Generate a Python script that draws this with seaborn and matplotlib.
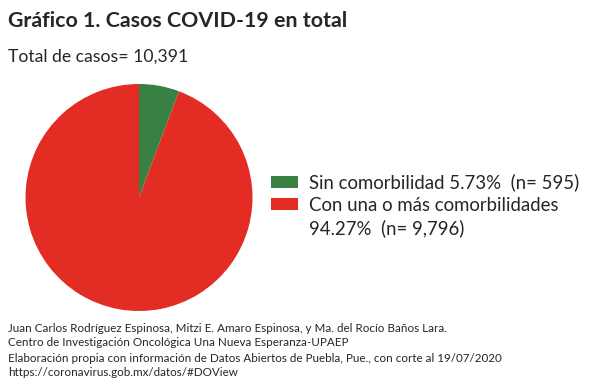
import matplotlib
matplotlib.use("Agg")
import matplotlib.pyplot as plt
from matplotlib.patches import Patch
import seaborn as sns

# data
categorias = ["Sin comorbilidad", "Con una o más comorbilidades"]
casos = [595, 9796]
colores = ["#398043", "#e32d24"]

total = sum(casos)
porcentajes = [100 * c / total for c in casos]

sns.set_theme(style="white")
plt.rcParams["font.family"] = ["Lato", "DejaVu Sans"]

W, H = 589, 390
fig = plt.figure(figsize=(W / 100, H / 100), dpi=100)

# pie axes: centre ~(139, 197), radius ~113 px
cx, cy, r = 139, 197.5, 113.5
ax = fig.add_axes([(cx - r) / W, 1 - (cy + r) / H, 2 * r / W, 2 * r / H])
wedges, _ = ax.pie(casos, colors=colores, startangle=90, counterclock=False,
                   radius=1, wedgeprops={"linewidth": 0})
ax.set_xlim(-1, 1)
ax.set_ylim(-1, 1)
ax.set_aspect("equal")
ax.axis("off")

fig.text(8 / W, 1 - 21 / H, "Gráfico 1. Casos COVID-19 en total",
         fontsize=15.4, fontweight="bold", va="center", ha="left")
fig.text(8 / W, 1 - 57 / H, "Total de casos= 10,391",
         fontsize=12.7, va="center", ha="left")

# second entry wraps onto a row with an empty handle
handles = [wedges[0], wedges[1], Patch(facecolor="none", edgecolor="none")]
etiquetas = [
    f"{categorias[0]} {porcentajes[0]:.2f}%  (n= {casos[0]:,})",
    categorias[1],
    f"{porcentajes[1]:.2f}%  (n= {casos[1]:,})",
]
fig.legend(handles, etiquetas, loc="upper left",
           bbox_to_anchor=(264 / W, 1 - 166 / H), frameon=False,
           fontsize=13.4, handlelength=1.4, handleheight=0.65,
           handletextpad=0.62, labelspacing=0.28, borderaxespad=0)

pie_pie = [
    "Juan Carlos Rodríguez Espinosa, Mitzi E. Amaro Espinosa, y Ma. del Rocío Baños Lara.",
    "Centro de Investigación Oncológica Una Nueva Esperanza-UPAEP",
    "Elaboración propia con información de Datos Abiertos de Puebla, Pue., con corte al 19/07/2020",
    "https://coronavirus.gob.mx/datos/#DOView",
]
for i, linea in enumerate(pie_pie):
    fig.text(8 / W, 1 - (328 + 15 * i) / H, linea, fontsize=8.4,
             va="center", ha="left")

fig.savefig("out.png", dpi=100, facecolor="white")
